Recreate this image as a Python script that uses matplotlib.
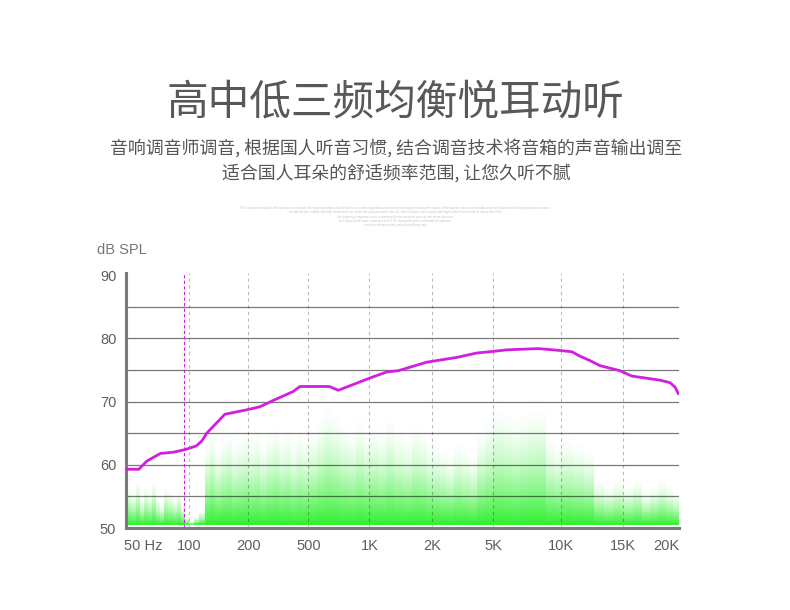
import numpy as np
import matplotlib
matplotlib.use("Agg")
import matplotlib.pyplot as plt
from matplotlib.colors import LinearSegmentedColormap

# texts
title = "高中低三频均衡悦耳动听"
sub1 = "音响调音师调音, 根据国人听音习惯, 结合调音技术将音箱的声音输出调至"
sub2 = "适合国人耳朵的舒适频率范围, 让您久听不腻"
fine_print = [
    "The sound tuner adjusts the speaker according to the listening habits of local listeners, combining professional tuning techniques to bring the output of the speaker into a comfortable range of frequencies for long listening sessions",
    "so that the low, middle and high frequencies are balanced and pleasant to the ear, with full bass, clear vocals and bright treble for all kinds of music and films",
    "the frequency response curve is measured in an anechoic room at one metre distance",
    "test signal: pink noise, reference level 1 W, measured with a calibrated microphone",
    "curve for reference only, actual result may vary",
]

# frequency response curve (Hz, dB SPL)
curve_freq = [39, 47, 53, 65, 79, 94, 109, 116, 123, 152,
              196, 239, 293, 397, 440, 635, 703, 1008, 1213, 1380,
              1892, 2900, 3910, 4770, 5740, 7940, 9930, 10740, 11330, 12090,
              12890, 14680, 15880, 19210, 20540, 21240, 21680]
curve_db = [59.3, 59.3, 60.6, 61.8, 62.0, 62.4, 63.0, 63.75, 65.0, 68.0,
            68.7, 69.2, 70.2, 71.6, 72.4, 72.4, 71.8, 73.75, 74.7, 74.9,
            76.25, 77.0, 77.7, 77.9, 78.2, 78.4, 78.1, 77.9, 77.2, 76.5,
            75.7, 74.9, 74.05, 73.4, 73.0, 72.3, 71.3]

# green spectrum bands: edges (Hz) and top level of each band (dB)
band_edges = [39, 42, 45, 48, 51, 54, 57, 61, 65, 69, 73, 78, 83, 88, 94,
              100, 106, 113, 120,
              128, 136, 145, 155, 165, 176, 188, 200,
              220, 240, 265, 290, 320, 350, 385, 420, 460, 500,
              550, 600, 660, 720, 790, 860, 940, 1000,
              1100, 1200, 1320, 1450, 1600, 1750, 1900, 2000,
              2250, 2500, 2800, 3150, 3500, 3900, 4400, 5000,
              5500, 6000, 6600, 7200, 7900, 8600, 9300, 10000,
              10800, 11600, 12400, 13200, 14000, 15000,
              16000, 17000, 18000, 19000, 20000, 21000, 21800]
band_top = [57, 56, 58, 55, 57, 56, 58, 55, 54, 57, 56, 55, 56, 54,
            52, 51, 52, 53,
            64, 66, 63, 65, 66, 64, 65, 66,
            65, 66, 64, 66, 67, 65, 66, 64, 66, 65,
            66, 68, 70, 69, 67, 66, 68, 66,
            67, 66, 68, 66, 65, 67, 66, 64,
            64, 63, 62, 64, 63, 62, 66, 68,
            70, 69, 68, 69, 70, 70, 65, 64,
            65, 64, 63, 58, 57, 58,
            57, 58, 56, 57, 58, 57, 56]

# x axis ticks
tick_freq = [50, 100, 200, 500, 1000, 2000, 5000, 10000, 15000, 20000]
tick_lab = ["50 Hz", "100", "200", "500", "1K", "2K", "5K", "10K", "15K", "20K"]
grid_freq = [100, 200, 500, 1000, 2000, 5000, 10000, 15000]
marker_freq = 92.7

# axis spacing of the printed scale (not a true log axis)
scale_freq = np.array([38.7, 50, 100, 200, 500, 1000, 2000, 5000, 10000, 15000, 20000, 21800])
scale_slot = np.array([-0.283, 0, 0.767, 1.755, 2.755, 3.772, 4.812, 5.838, 6.962, 8.005, 8.717, 8.933])


def fwd(f):
    f = np.clip(np.asarray(f, dtype=float), 1e-3, None)
    return np.interp(np.log10(f), np.log10(scale_freq), scale_slot)


def inv(s):
    s = np.asarray(s, dtype=float)
    return 10 ** np.interp(s, scale_slot, np.log10(scale_freq))


plt.rcParams['font.family'] = ['Liberation Sans', 'DejaVu Sans']

fig = plt.figure(figsize=(7.9, 6.1), dpi=100)
fig.patch.set_facecolor('white')

cjk = ['Noto Sans CJK SC', 'DejaVu Sans']
fig.text(0.5, 0.831, title, ha='center', va='center', fontsize=30, color='#585858', family=cjk)
fig.text(0.501, 0.757, sub1, ha='center', va='center', fontsize=12.9, color='#555555', family=cjk)
fig.text(0.502, 0.716, sub2, ha='center', va='center', fontsize=12.9, color='#555555', family=cjk)
for i, line in enumerate(fine_print):
    fig.text(0.5, 0.659 - i * 0.007, line, ha='center', va='center', fontsize=2.2, color='#c4c4c4')

ax = fig.add_axes([0.1595, 0.1344, 0.7, 0.4174])
ax.set_xscale('function', functions=(fwd, inv))
ax.set_xlim(38.7, 21800)
ax.set_ylim(50.5, 90.3)

# green spectrum
ygrid = np.arange(50.5, 72.01, 0.25)
yc = (ygrid[:-1] + ygrid[1:]) / 2
top = np.array(band_top, dtype=float)
inten = np.clip((top[None, :] - yc[:, None]) / (top[None, :] - 50.5), 0, 1) ** 1.7
green = LinearSegmentedColormap.from_list('g', [(0.18, 0.94, 0.18, 0.0), (0.18, 0.94, 0.18, 1.0)])
ax.pcolormesh(band_edges, ygrid, inten, cmap=green, vmin=0, vmax=1,
              shading='flat', antialiased=False, zorder=1)

# grid lines (drawn dark+transparent so they darken over the green)
for y in [55, 60, 65, 70, 75, 80, 85]:
    ax.axhline(y, color='black', alpha=0.52, lw=0.9, zorder=2)
for f in grid_freq:
    ax.axvline(f, color='black', alpha=0.27, lw=0.8, ls=(0, (3, 3)), zorder=2)
ax.axvline(marker_freq, color='#cc22dd', lw=0.8, ls=(0, (3, 2)), zorder=2)

ax.plot(curve_freq, curve_db, color='#d21ede', lw=2.0, zorder=3, solid_joinstyle='round')

ax.set_xticks(tick_freq)
ax.set_xticklabels(tick_lab)
ax.xaxis.set_minor_locator(matplotlib.ticker.NullLocator())
ax.set_yticks([50, 60, 70, 80, 90])
ax.tick_params(length=0, labelsize=10.5, labelcolor='#5e5e5e')
ax.tick_params(axis='y', pad=7)
ax.tick_params(axis='x', pad=8)

for s in ['top', 'right']:
    ax.spines[s].set_visible(False)
for s in ['left', 'bottom']:
    ax.spines[s].set_color('#7a7a7a')
    ax.spines[s].set_linewidth(2.2)
ax.set_facecolor('white')

fig.text(0.1228, 0.590, "dB SPL", ha='left', va='center', fontsize=10.5, color='#777777')

fig.savefig('out.png', dpi=100)
